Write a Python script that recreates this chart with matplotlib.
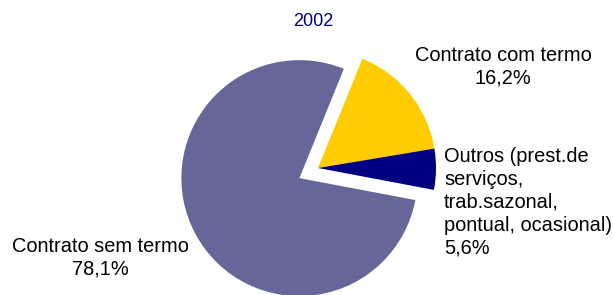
import matplotlib.pyplot as plt

plt.rcParams["font.family"] = ["Liberation Sans", "DejaVu Sans"]

# Data
labels = [
    "Contrato sem termo\n78,1%",
    "Contrato com termo\n16,2%",
    "Outros (prest.de\nserviços,\ntrab.sazonal,\npontual, ocasional)\n5,6%",
]
values = [78.1, 16.2, 5.6]
colors = ["#666699", "#FFCC00", "#000080"]
title = "2002"

W, H = 613, 295
fig = plt.figure(figsize=(W / 100, H / 100), dpi=100)
ax = fig.add_axes([0, 0, 1, 1])

# pixel-like coords, y measured up from bottom
# note: pie's explode offset is in data units, not a radius fraction
ax.pie(
    values,
    colors=colors,
    explode=[21.2, 0, 0],
    startangle=349.3,
    counterclock=False,
    center=(318, H - 168),
    radius=118,
    wedgeprops={"linewidth": 0},
)
ax.set_xlim(0, W)
ax.set_ylim(0, H)
ax.set_aspect("equal")
ax.axis("off")

fs = 14.4
ax.text(313, H - 22, title, ha="center", va="center", fontsize=13, color="#000080")
ax.text(100, H - 257.5, labels[0], ha="center", va="center", fontsize=fs,
        linespacing=1.26, multialignment="center")
ax.text(503, H - 66.5, labels[1], ha="center", va="center", fontsize=fs,
        linespacing=1.26, multialignment="center")
ax.text(444, H - 202.5, labels[2], ha="left", va="center", fontsize=fs,
        linespacing=1.26, multialignment="left")

fig.savefig("out.png", dpi=100)
